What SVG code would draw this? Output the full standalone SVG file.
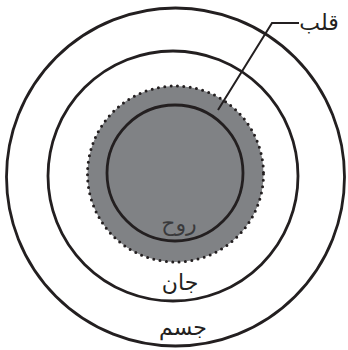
<svg xmlns="http://www.w3.org/2000/svg" width="348" height="350" viewBox="0 0 348 350">
<style>
.ring{fill:none;stroke:#231f20;stroke-width:2.8}
.lbl{font-family:"DejaVu Sans","Noto Sans",sans-serif;font-size:22px;text-anchor:middle;fill:#231f20}
</style>
<rect width="348" height="350" fill="#fff"/>
<g id="jism"><circle class="ring" cx="175.5" cy="177" r="169"/><text class="lbl" x="183" y="335">جسم</text></g>
<g id="jaan"><circle class="ring" cx="173" cy="176" r="125"/><text class="lbl" x="180" y="290">جان</text></g>
<g id="qalb"><circle cx="175.5" cy="174" r="88" fill="#808285" stroke="#231f20" stroke-width="3" stroke-linecap="round" stroke-dasharray="0 6.4"/></g>
<g id="rooh"><circle class="ring" cx="175" cy="173" r="68"/><text class="lbl" x="179" y="231" style="fill:#3a3a3c">روح</text></g>
<g id="connectors"><polyline points="218,110 272,23 299,23" fill="none" stroke="#231f20" stroke-width="2"/></g>
<g id="qalb-label"><text class="lbl" x="319" y="30">قلب</text></g>
</svg>
